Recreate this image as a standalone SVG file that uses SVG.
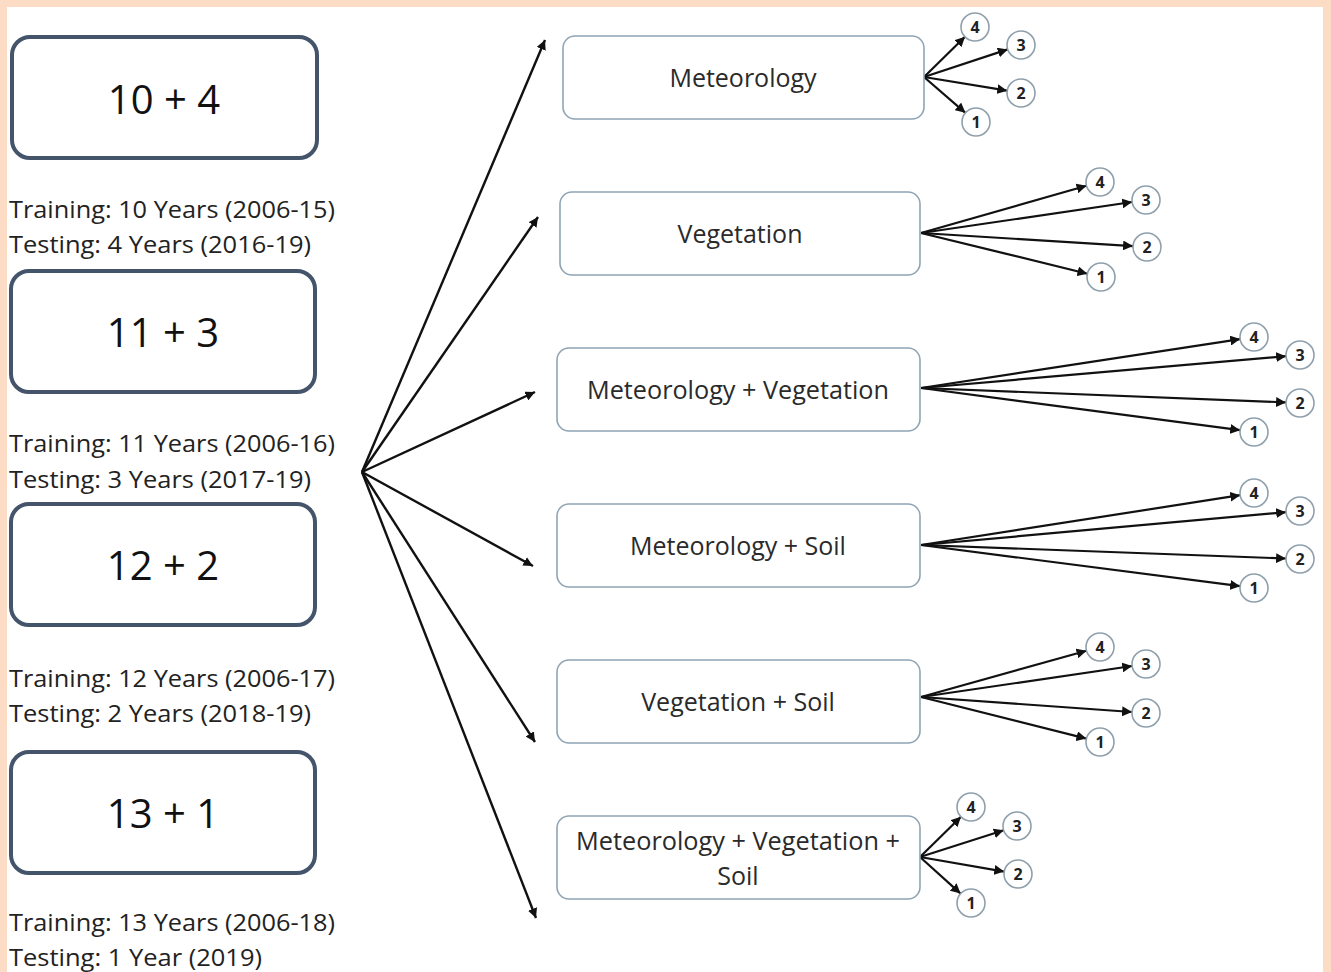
<svg xmlns="http://www.w3.org/2000/svg" width="1331" height="972" viewBox="0 0 1331 972">
<style>
.big{font-family:"Open Sans","Liberation Sans",sans-serif;font-size:40px;fill:#111;text-anchor:middle}
.cap{font-family:"Open Sans","Liberation Sans",sans-serif;font-size:23px;fill:#222}
.lbl{font-family:"Open Sans","Liberation Sans",sans-serif;font-size:25px;fill:#2a2a2a;text-anchor:middle}
.num{font-family:"Open Sans","Liberation Sans",sans-serif;font-size:16px;font-weight:bold;fill:#222;text-anchor:middle}
.lbox{fill:#fff;stroke:#44546a;stroke-width:4}
.rbox{fill:#fff;stroke:#8fa5b5;stroke-width:1.6}
.circ{fill:#fff;stroke:#8fa0ad;stroke-width:1.6}
.con line{stroke:#111;stroke-width:2.4;marker-end:url(#ah)}
.fan line{stroke:#111;stroke-width:2.2;marker-end:url(#ah2)}
</style>
<defs>
<marker id="ah" viewBox="0 0 10 10" refX="10" refY="5" markerWidth="4" markerHeight="4" orient="auto" markerUnits="strokeWidth"><path d="M0,0 L10,5 L0,10 z" fill="#111"/></marker>
<marker id="ah2" viewBox="0 0 10 10" refX="10" refY="5" markerWidth="4.5" markerHeight="4.5" orient="auto" markerUnits="strokeWidth"><path d="M0,0 L10,5 L0,10 z" fill="#111"/></marker>
</defs>
<rect x="0" y="0" width="1331" height="972" fill="#fcdcc5"/>
<rect x="7" y="7" width="1316" height="965" fill="#fff"/>

<g id="split1"><rect class="lbox" x="12" y="37" width="305" height="121" rx="18"/><text class="big" x="164" y="114">10 + 4</text>
<text class="cap" x="9" y="218" textLength="326" lengthAdjust="spacingAndGlyphs">Training: 10 Years (2006-15)</text>
<text class="cap" x="9" y="253" textLength="302" lengthAdjust="spacingAndGlyphs">Testing: 4 Years (2016-19)</text></g>
<g id="split2"><rect class="lbox" x="11" y="271" width="304" height="121" rx="18"/><text class="big" x="163" y="347">11 + 3</text>
<text class="cap" x="9" y="452" textLength="326" lengthAdjust="spacingAndGlyphs">Training: 11 Years (2006-16)</text>
<text class="cap" x="9" y="488" textLength="302" lengthAdjust="spacingAndGlyphs">Testing: 3 Years (2017-19)</text></g>
<g id="split3"><rect class="lbox" x="11" y="504" width="304" height="121" rx="18"/><text class="big" x="163" y="580">12 + 2</text>
<text class="cap" x="9" y="687" textLength="326" lengthAdjust="spacingAndGlyphs">Training: 12 Years (2006-17)</text>
<text class="cap" x="9" y="722" textLength="302" lengthAdjust="spacingAndGlyphs">Testing: 2 Years (2018-19)</text></g>
<g id="split4"><rect class="lbox" x="11" y="752" width="304" height="121" rx="18"/><text class="big" x="163" y="828">13 + 1</text>
<text class="cap" x="9" y="931" textLength="326" lengthAdjust="spacingAndGlyphs">Training: 13 Years (2006-18)</text>
<text class="cap" x="9" y="966" textLength="253" lengthAdjust="spacingAndGlyphs">Testing: 1 Year (2019)</text></g>

<g id="connectors">
<g class="con">
<line x1="362" y1="472" x2="545" y2="40"/>
<line x1="362" y1="472" x2="538" y2="217"/>
<line x1="362" y1="472" x2="535" y2="392"/>
<line x1="362" y1="472" x2="533" y2="566"/>
<line x1="362" y1="472" x2="535" y2="742"/>
<line x1="362" y1="472" x2="536" y2="918"/>
</g>
<g class="fan">
<line x1="924" y1="77" x2="965" y2="36.8"/>
<line x1="924" y1="77" x2="1007.7" y2="49.4"/>
<line x1="924" y1="77" x2="1007.2" y2="90.7"/>
<line x1="924" y1="77" x2="965.4" y2="112.8"/>
<line x1="921" y1="233" x2="1086.5" y2="185.8"/>
<line x1="921" y1="233" x2="1132.2" y2="202"/>
<line x1="921" y1="233" x2="1133" y2="246.1"/>
<line x1="921" y1="233" x2="1087.4" y2="273.7"/>
<line x1="921" y1="388" x2="1240.2" y2="339.1"/>
<line x1="921" y1="388" x2="1286.1" y2="356.2"/>
<line x1="921" y1="388" x2="1286" y2="402.4"/>
<line x1="921" y1="388" x2="1240.1" y2="430.2"/>
<line x1="921" y1="545" x2="1240.2" y2="495.2"/>
<line x1="921" y1="545" x2="1286.1" y2="512.2"/>
<line x1="921" y1="545" x2="1286" y2="558.5"/>
<line x1="921" y1="545" x2="1240.1" y2="586.2"/>
<line x1="921" y1="697" x2="1086.5" y2="650.8"/>
<line x1="921" y1="697" x2="1132.2" y2="666"/>
<line x1="921" y1="697" x2="1132" y2="712"/>
<line x1="921" y1="697" x2="1086.4" y2="738.6"/>
<line x1="920" y1="857" x2="961" y2="816.8"/>
<line x1="920" y1="857" x2="1003.7" y2="830.3"/>
<line x1="920" y1="857" x2="1004.2" y2="871.6"/>
<line x1="920" y1="857" x2="960.6" y2="893.6"/>
</g>
</g>

<g id="met"><rect class="rbox" x="563" y="36" width="361" height="83" rx="12"/><text class="lbl" x="743" y="87">Meteorology</text></g>
<g id="veg"><rect class="rbox" x="560" y="192" width="360" height="83" rx="12"/><text class="lbl" x="740" y="243">Vegetation</text></g>
<g id="metveg"><rect class="rbox" x="557" y="348" width="363" height="83" rx="12"/><text class="lbl" x="738" y="399" textLength="302" lengthAdjust="spacingAndGlyphs">Meteorology + Vegetation</text></g>
<g id="metsoil"><rect class="rbox" x="557" y="504" width="363" height="83" rx="12"/><text class="lbl" x="738" y="555">Meteorology + Soil</text></g>
<g id="vegsoil"><rect class="rbox" x="557" y="660" width="363" height="83" rx="12"/><text class="lbl" x="738" y="711">Vegetation + Soil</text></g>
<g id="all"><rect class="rbox" x="557" y="816" width="363" height="83" rx="12"/><text class="lbl" x="738" y="850" textLength="324" lengthAdjust="spacingAndGlyphs">Meteorology + Vegetation +</text><text class="lbl" x="738" y="885">Soil</text></g>

<g id="c1"><circle class="circ" cx="975" cy="27" r="14"/><text class="num" x="975" y="33">4</text><circle class="circ" cx="1021" cy="45" r="14"/><text class="num" x="1021" y="51">3</text><circle class="circ" cx="1021" cy="93" r="14"/><text class="num" x="1021" y="99">2</text><circle class="circ" cx="976" cy="122" r="14"/><text class="num" x="976" y="128">1</text></g>
<g id="c2"><circle class="circ" cx="1100" cy="182" r="14"/><text class="num" x="1100" y="188">4</text><circle class="circ" cx="1146" cy="200" r="14"/><text class="num" x="1146" y="206">3</text><circle class="circ" cx="1147" cy="247" r="14"/><text class="num" x="1147" y="253">2</text><circle class="circ" cx="1101" cy="277" r="14"/><text class="num" x="1101" y="283">1</text></g>
<g id="c3"><circle class="circ" cx="1254" cy="337" r="14"/><text class="num" x="1254" y="343">4</text><circle class="circ" cx="1300" cy="355" r="14"/><text class="num" x="1300" y="361">3</text><circle class="circ" cx="1300" cy="403" r="14"/><text class="num" x="1300" y="409">2</text><circle class="circ" cx="1254" cy="432" r="14"/><text class="num" x="1254" y="438">1</text></g>
<g id="c4"><circle class="circ" cx="1254" cy="493" r="14"/><text class="num" x="1254" y="499">4</text><circle class="circ" cx="1300" cy="511" r="14"/><text class="num" x="1300" y="517">3</text><circle class="circ" cx="1300" cy="559" r="14"/><text class="num" x="1300" y="565">2</text><circle class="circ" cx="1254" cy="588" r="14"/><text class="num" x="1254" y="594">1</text></g>
<g id="c5"><circle class="circ" cx="1100" cy="647" r="14"/><text class="num" x="1100" y="653">4</text><circle class="circ" cx="1146" cy="664" r="14"/><text class="num" x="1146" y="670">3</text><circle class="circ" cx="1146" cy="713" r="14"/><text class="num" x="1146" y="719">2</text><circle class="circ" cx="1100" cy="742" r="14"/><text class="num" x="1100" y="748">1</text></g>
<g id="c6"><circle class="circ" cx="971" cy="807" r="14"/><text class="num" x="971" y="813">4</text><circle class="circ" cx="1017" cy="826" r="14"/><text class="num" x="1017" y="832">3</text><circle class="circ" cx="1018" cy="874" r="14"/><text class="num" x="1018" y="880">2</text><circle class="circ" cx="971" cy="903" r="14"/><text class="num" x="971" y="909">1</text></g>
</svg>
